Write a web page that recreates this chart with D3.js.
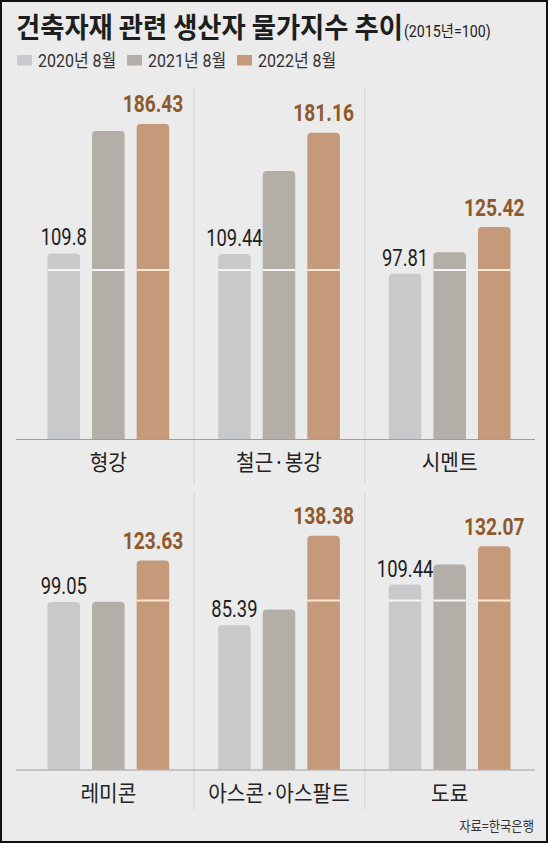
<!DOCTYPE html>
<html>
<head>
<meta charset="utf-8">
<script src="https://cdn.jsdelivr.net/npm/d3@7"></script>
<style>
  html, body { margin: 0; padding: 0; background: #fff; }
  svg { display: block; }
</style>
</head>
<body>
<div id="chart"></div>
<script>
// data
const categories = ["형강", "철근·봉강", "시멘트", "레미콘", "아스콘·아스팔트", "도료"];
const series = ["2020년 8월", "2021년 8월", "2022년 8월"];
const v2020 = [109.8, 109.44, 97.81, 99.05, 85.39, 109.44];
const v2021 = [182.3, 158.6, 110.5, 99.3, 94.7, 121.3];
const v2022 = [186.43, 181.16, 125.42, 123.63, 138.38, 132.07];
const colors = ["#c8c9ca", "#b3afa8", "#c59a7a"];

const W = 549, H = 844;
const cjk = "'Noto Sans CJK KR', sans-serif";
const num = "Roboto, 'Noto Sans CJK KR', sans-serif";

const svg = d3.select("#chart").append("svg")
  .attr("width", W).attr("height", H);

svg.append("rect")
  .attr("x", 1).attr("y", 1)
  .attr("width", W - 3).attr("height", H - 3)
  .attr("fill", "#ebebeb")
  .attr("stroke", "#111").attr("stroke-width", 2);

// condensed text helper: scale x around the anchor
function label(parent, x, y, txt, sx) {
  return parent.append("g")
    .attr("transform", `translate(${x},${y}) scale(${sx},1)`)
    .append("text").text(txt);
}

// title
label(svg, 16, 38, "건축자재 관련 생산자 물가지수 추이", 0.94)
  .attr("font-family", cjk).attr("font-weight", 700)
  .attr("font-size", 28).attr("fill", "#1e1e1e");
label(svg, 404, 37, "(2015년=100)", 0.89)
  .attr("font-family", num).attr("font-size", 16).attr("fill", "#222");

// legend
const legendX = [17, 127, 237];
series.forEach((s, i) => {
  svg.append("rect")
    .attr("x", legendX[i]).attr("y", 55)
    .attr("width", 15).attr("height", 10.5)
    .attr("fill", colors[i]);
  label(svg, legendX[i] + 21, 66.5, s, 0.865)
    .attr("font-family", num).attr("font-size", 18.5).attr("fill", "#333");
});

// layout: 3 columns x 2 rows
const col = d3.scaleBand().domain([0, 1, 2]).range([23, 535]);
const rowBase = [439, 769.5];
const rowDivider = [[88, 484], [493, 810]];
const k = 1.69; // px per index point

const panels = categories.map((c, i) => ({
  cat: c, col: i % 3, row: Math.floor(i / 3),
  vals: [v2020[i], v2021[i], v2022[i]]
}));

// dividers
rowBase.forEach((b, r) => {
  [1, 2].forEach(c => {
    svg.append("line")
      .attr("x1", col(c) + 0.5).attr("x2", col(c) + 0.5)
      .attr("y1", rowDivider[r][0]).attr("y2", rowDivider[r][1])
      .attr("stroke", "#d4d4d4").attr("stroke-width", 1);
  });
});

function topRounded(x, y, w, h, r) {
  return `M${x},${y + h}V${y + r}Q${x},${y} ${x + r},${y}H${x + w - r}Q${x + w},${y} ${x + w},${y + r}V${y + h}Z`;
}

panels.forEach(p => {
  const base = rowBase[p.row];
  const y = d3.scaleLinear().domain([0, 200]).range([base, base - 200 * k]);
  const cx = col(p.col) + col.bandwidth() / 2;
  const x = d3.scaleBand().domain(series)
    .range([cx - 66.9, cx + 66.9]).paddingInner(0.27).paddingOuter(0.135);
  const g = svg.append("g");

  g.selectAll("path.bar").data(p.vals).join("path")
    .attr("class", "bar")
    .attr("d", (v, i) => topRounded(x(series[i]), y(v), x.bandwidth(), y(0) - y(v), 4))
    .attr("fill", (v, i) => colors[i]);

  // reference line at 100
  g.selectAll("line.ref").data(p.vals.map((v, i) => ({ v, i })).filter(d => d.v > 101))
    .join("line")
    .attr("class", "ref")
    .attr("x1", d => x(series[d.i])).attr("x2", d => x(series[d.i]) + x.bandwidth())
    .attr("y1", y(100)).attr("y2", y(100))
    .attr("stroke", d => d.i === 2 ? "#fbe6d4" : "#f6f6f6")
    .attr("stroke-width", 2);

  // value labels
  const c0 = x(series[0]) + x.bandwidth() / 2;
  label(g, c0, y(p.vals[0]) - 8, p.vals[0], 0.8)
    .attr("text-anchor", "middle").attr("font-family", num)
    .attr("font-size", 23).attr("fill", "#1e1e1e");
  const c2 = x(series[2]) + x.bandwidth() / 2;
  label(g, c2, y(p.vals[2]) - 11.5, p.vals[2].toFixed(2), 0.8)
    .attr("text-anchor", "middle").attr("font-family", num)
    .attr("font-weight", 700).attr("font-size", 24).attr("fill", "#8e5a2d");

  // category label
  label(g, cx, base + 31, p.cat, 0.92)
    .attr("text-anchor", "middle").attr("font-family", cjk)
    .attr("font-size", 22).attr("fill", "#222");
});

// baselines
rowBase.forEach(b => {
  svg.append("line")
    .attr("x1", 16).attr("x2", 535)
    .attr("y1", b + 0.5).attr("y2", b + 0.5)
    .attr("stroke", "#9d9d9d").attr("stroke-width", 1);
});

// source
label(svg, 534, 831, "자료=한국은행", 0.88)
  .attr("text-anchor", "end").attr("font-family", cjk)
  .attr("font-size", 14).attr("fill", "#333");
</script>
</body>
</html>
